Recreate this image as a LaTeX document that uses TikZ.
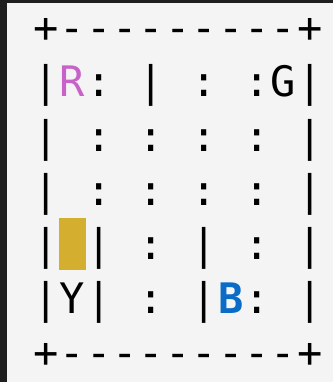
\documentclass[tikz,border=0pt]{standalone}
\usepackage{fontspec}
\setmonofont{DejaVu Sans Mono}
\definecolor{bgdark}{HTML}{1F1F1F}
\definecolor{panel}{HTML}{F4F4F4}
\definecolor{taxi}{HTML}{D4AE2E}
\definecolor{locR}{HTML}{C763C8}
\definecolor{locB}{HTML}{0B6CC7}
\begin{document}
\begin{tikzpicture}[x=1pt,y=-1pt,
  ch/.style={font=\ttfamily\fontsize{42}{42}\selectfont, inner sep=0pt, anchor=base, text=black}]
\useasboundingbox (0,0) rectangle (333,382);
\fill[bgdark] (0,0) rectangle (333,382);
\fill[panel] (7,3) rectangle (333,382);
\fill[taxi] (59,218) rectangle (86,270);
\def\X#1{46.2+26.36*#1}
\def\Y#1{43+54*#1}
% top and bottom borders
\foreach \r in {0,6}{
  \node[ch] (n-\r-0) at ({\X{0}},{\Y{\r}}) {+};
  \node[ch] (n-\r-10) at ({\X{10}},{\Y{\r}}) {+};
  \foreach \c in {1,...,9}{
    \node[ch] (n-\r-\c) at ({\X{\c}},{\Y{\r}}) {-};
  }
}
% row 1
\foreach \c/\t in {0/|,2/:,4/|,6/:,8/:,9/G,10/|}{
  \node[ch] (n-1-\c) at ({\X{\c}},{\Y{1}}) {\t};
}
\node[ch, text=locR] (n-1-1) at ({\X{1}},{\Y{1}}) {R};
% rows 2 and 3
\foreach \r in {2,3}{
  \foreach \c/\t in {0/|,2/:,4/:,6/:,8/:,10/|}{
    \node[ch] (n-\r-\c) at ({\X{\c}},{\Y{\r}}) {\t};
  }
}
% row 4
\foreach \c/\t in {0/|,2/|,4/:,6/|,8/:,10/|}{
  \node[ch] (n-4-\c) at ({\X{\c}},{\Y{4}}) {\t};
}
% row 5
\foreach \c/\t in {0/|,1/Y,2/|,4/:,6/|,8/:,10/|}{
  \node[ch] (n-5-\c) at ({\X{\c}},{\Y{5}}) {\t};
}
\node[ch, text=locB, font=\ttfamily\bfseries\fontsize{42}{42}\selectfont] (n-5-7) at ({\X{7}},{\Y{5}}) {B};
\end{tikzpicture}
\end{document}
